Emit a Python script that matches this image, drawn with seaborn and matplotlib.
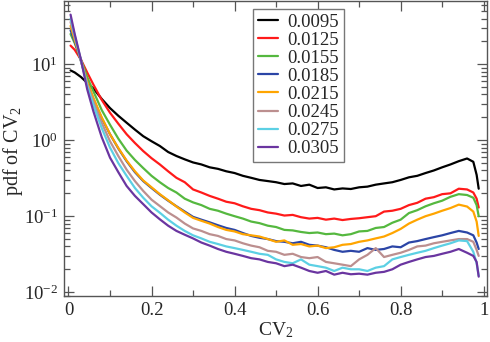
import numpy as np
import pandas as pd
import matplotlib
matplotlib.use("Agg")
import matplotlib.pyplot as plt
import seaborn as sns
from matplotlib.ticker import MultipleLocator, LogLocator

sns.set_style("ticks")
plt.rcParams['font.family'] = ['Liberation Serif', 'DejaVu Serif']
plt.rcParams['mathtext.fontset'] = 'custom'
plt.rcParams['mathtext.rm'] = 'Liberation Serif'
plt.rcParams['mathtext.it'] = 'Liberation Serif:italic'

# CV2 bin centres
cv2 = [0.005, 0.015, 0.03, 0.045, 0.06,
       0.08, 0.10, 0.12, 0.14, 0.16, 0.18, 0.20, 0.22, 0.24, 0.26,
       0.28, 0.30, 0.32, 0.34, 0.36, 0.38, 0.40, 0.42, 0.44, 0.46,
       0.48, 0.50, 0.52, 0.54, 0.56, 0.58, 0.60, 0.62, 0.64, 0.66,
       0.68, 0.70, 0.72, 0.74, 0.76, 0.78, 0.80, 0.82, 0.84, 0.86,
       0.88, 0.90, 0.92, 0.94, 0.96,
       0.975, 0.983, 0.988]

labels = ["0.0095", "0.0125", "0.0155", "0.0185", "0.0215", "0.0245", "0.0275", "0.0305"]
colors = ["#000000", "#ff1a1a", "#55b83f", "#2b45a6", "#ffa500", "#bc8f8f", "#5cd0e4", "#6a35a0"]

pdf_0095 = [8.3, 7.8, 6.8, 5.7, 4.8,
            3.5, 2.65, 2.1, 1.7, 1.38, 1.13, 0.97, 0.84, 0.70, 0.62,
            0.56, 0.51, 0.48, 0.44, 0.42, 0.39, 0.37, 0.34, 0.32, 0.30,
            0.29, 0.28, 0.265, 0.27, 0.25, 0.26, 0.235, 0.24, 0.225, 0.232,
            0.228, 0.24, 0.245, 0.26, 0.27, 0.28, 0.30, 0.325, 0.34, 0.37,
            0.40, 0.44, 0.48, 0.53, 0.575,
            0.52, 0.35, 0.23]
pdf_0125 = [17.6, 15.5, 11.5, 7.8, 5.4,
            3.4, 2.3, 1.65, 1.2, 0.92, 0.72, 0.58, 0.48, 0.39, 0.32,
            0.28, 0.225, 0.205, 0.185, 0.17, 0.155, 0.148, 0.135, 0.125, 0.12,
            0.112, 0.108, 0.102, 0.104, 0.097, 0.093, 0.095, 0.09, 0.093, 0.089,
            0.092, 0.094, 0.097, 0.10, 0.115, 0.118, 0.125, 0.14, 0.15, 0.17,
            0.178, 0.195, 0.20, 0.23, 0.225,
            0.205, 0.17, 0.13]
pdf_0155 = [25, 19, 11.5, 6.8, 4.4,
            2.5, 1.6, 1.05, 0.73, 0.55, 0.43, 0.34, 0.28, 0.235, 0.205,
            0.17, 0.152, 0.14, 0.125, 0.118, 0.108, 0.10, 0.093, 0.085, 0.081,
            0.075, 0.072, 0.066, 0.065, 0.062, 0.06, 0.061, 0.058, 0.059, 0.056,
            0.058, 0.063, 0.064, 0.07, 0.072, 0.082, 0.09, 0.11, 0.12, 0.135,
            0.148, 0.16, 0.18, 0.195, 0.19,
            0.175, 0.14, 0.1]
pdf_0185 = [28, 20, 11, 5.8, 3.5,
            1.95, 1.2, 0.78, 0.53, 0.38, 0.29, 0.235, 0.192, 0.16, 0.135,
            0.115, 0.098, 0.09, 0.083, 0.076, 0.07, 0.066, 0.06, 0.055, 0.052,
            0.05, 0.047, 0.046, 0.044, 0.046, 0.042, 0.041, 0.039, 0.036, 0.034,
            0.035, 0.034, 0.038, 0.036, 0.037, 0.04, 0.039, 0.045, 0.047, 0.05,
            0.053, 0.056, 0.06, 0.064, 0.061,
            0.056, 0.045, 0.037]
pdf_0215 = [32, 21, 11.2, 5.9, 3.6,
            2.0, 1.2, 0.79, 0.54, 0.39, 0.295, 0.24, 0.195, 0.162, 0.134,
            0.112, 0.095, 0.087, 0.08, 0.072, 0.066, 0.063, 0.058, 0.056, 0.054,
            0.05, 0.046, 0.048, 0.042, 0.043, 0.04, 0.041, 0.038, 0.039, 0.042,
            0.043, 0.046, 0.048, 0.051, 0.054, 0.06, 0.068, 0.08, 0.09, 0.1,
            0.108, 0.118, 0.128, 0.142, 0.134,
            0.115, 0.085, 0.055]
pdf_0245 = [36, 23, 11.3, 5.5, 3.2,
            1.7, 0.97, 0.62, 0.41, 0.29, 0.215, 0.165, 0.136, 0.112, 0.096,
            0.08, 0.069, 0.064, 0.058, 0.055, 0.05, 0.048, 0.044, 0.041, 0.039,
            0.035, 0.034, 0.031, 0.032, 0.029, 0.028, 0.029, 0.025, 0.024, 0.023,
            0.022, 0.027, 0.031, 0.038, 0.029, 0.031, 0.033, 0.036, 0.04, 0.041,
            0.044, 0.046, 0.048, 0.05, 0.05,
            0.046, 0.036, 0.03]
pdf_0275 = [40, 24, 11.3, 5.2, 2.9,
            1.45, 0.8, 0.5, 0.34, 0.235, 0.175, 0.135, 0.111, 0.09, 0.075,
            0.064, 0.056, 0.051, 0.046, 0.043, 0.04, 0.038, 0.036, 0.034, 0.032,
            0.031, 0.027, 0.025, 0.024, 0.027, 0.023, 0.022, 0.021, 0.019, 0.021,
            0.02, 0.02, 0.019, 0.021, 0.022, 0.027, 0.029, 0.031, 0.033, 0.035,
            0.038, 0.041, 0.044, 0.048, 0.047,
            0.034, 0.024, 0.0165]
pdf_0305 = [45, 25, 11.5, 4.7, 2.4,
            1.1, 0.59, 0.38, 0.25, 0.185, 0.144, 0.112, 0.091, 0.075, 0.064,
            0.057, 0.051, 0.045, 0.041, 0.037, 0.034, 0.032, 0.03, 0.028, 0.027,
            0.025, 0.024, 0.022, 0.023, 0.021, 0.019, 0.018, 0.019, 0.017, 0.018,
            0.0172, 0.0175, 0.017, 0.018, 0.0185, 0.02, 0.023, 0.025, 0.027, 0.029,
            0.03, 0.032, 0.034, 0.037, 0.033,
            0.03, 0.025, 0.016]

series = [pdf_0095, pdf_0125, pdf_0155, pdf_0185, pdf_0215, pdf_0245, pdf_0275, pdf_0305]

# long-form table for seaborn
frames = []
for lab, vals in zip(labels, series):
    frames.append(pd.DataFrame({"CV2": cv2, "pdf": vals, "sigma": lab}))
df = pd.concat(frames, ignore_index=True)

fig = plt.figure(figsize=(4.9, 3.42), dpi=100)
ax = fig.add_axes([0.1296, 0.1345, 0.8643, 0.8625])

sns.lineplot(data=df, x="CV2", y="pdf", hue="sigma", hue_order=labels,
             palette=colors, estimator=None, errorbar=None, sort=False,
             linewidth=1.6, ax=ax)

ax.set_yscale("log")
ax.set_xlim(-0.012, 1.008)
ax.set_ylim(0.0089, 68)

ax.xaxis.set_minor_locator(MultipleLocator(0.1))
ax.yaxis.set_major_locator(LogLocator(base=10, numticks=10))
ax.yaxis.set_minor_locator(LogLocator(base=10, subs=np.arange(2, 10), numticks=10))
ax.set_xticks([0, 0.2, 0.4, 0.6, 0.8, 1.0])
ax.set_xticklabels(["0", "0.2", "0.4", "0.6", "0.8", "1"])

ax.tick_params(which="both", direction="in", top=True, right=True, labelsize=13.5,
               color="#555555", width=0.9)
ax.tick_params(which="major", length=7, pad=4)
ax.tick_params(which="minor", length=4)
for s in ax.spines.values():
    s.set_color("#555555")
    s.set_linewidth(1.0)

ax.set_xlabel("CV$_2$", fontsize=14, labelpad=1)
ax.set_ylabel("pdf of CV$_2$", fontsize=14.5)
ax.yaxis.set_label_coords(-0.092, 0.49)

handles, labs = ax.get_legend_handles_labels()
leg = ax.legend(handles, labs, loc="upper left", bbox_to_anchor=(0.4475, 0.973),
                borderaxespad=0, fontsize=13.5, handlelength=1.1, handletextpad=0.5,
                labelspacing=0.05, borderpad=0.25, fancybox=False, framealpha=1)
leg.get_frame().set_edgecolor("#777777")
leg.get_frame().set_linewidth(1.0)

fig.savefig("out.png", dpi=100)
